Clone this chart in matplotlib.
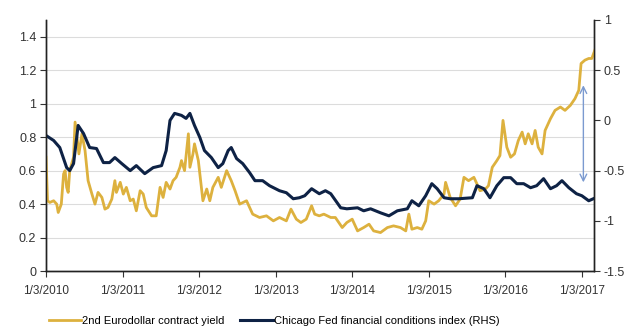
import numpy as np
import matplotlib
matplotlib.use('Agg')
import matplotlib.pyplot as plt

plt.rcParams['font.family'] = ['Liberation Sans', 'DejaVu Sans']

# 2nd Eurodollar contract yield (left axis), x in decimal years
ed_year = [2010.00, 2010.02, 2010.05, 2010.10, 2010.14, 2010.16, 2010.20, 2010.23, 2010.25, 2010.27,
           2010.29, 2010.31, 2010.36, 2010.38, 2010.41, 2010.43, 2010.47, 2010.51, 2010.55, 2010.60,
           2010.64, 2010.68, 2010.73, 2010.77, 2010.81, 2010.86, 2010.90, 2010.92, 2010.97, 2011.01,
           2011.05, 2011.10, 2011.14, 2011.18, 2011.23, 2011.27, 2011.31, 2011.38, 2011.44, 2011.49,
           2011.53, 2011.57, 2011.62, 2011.66, 2011.70, 2011.75, 2011.77, 2011.81, 2011.86, 2011.88,
           2011.92, 2011.94, 2011.99, 2012.03, 2012.05, 2012.10, 2012.14, 2012.18, 2012.25, 2012.29,
           2012.36, 2012.42, 2012.47, 2012.53, 2012.62, 2012.70, 2012.79, 2012.88, 2012.97, 2013.05,
           2013.14, 2013.20, 2013.27, 2013.33, 2013.40, 2013.47, 2013.51, 2013.57, 2013.63, 2013.72,
           2013.78, 2013.87, 2013.93, 2014.00, 2014.07, 2014.15, 2014.22, 2014.28, 2014.37, 2014.46,
           2014.54, 2014.63, 2014.70, 2014.74, 2014.78, 2014.85, 2014.91, 2014.96, 2015.00, 2015.07,
           2015.13, 2015.20, 2015.22, 2015.28, 2015.35, 2015.41, 2015.46, 2015.52, 2015.59, 2015.63,
           2015.67, 2015.74, 2015.78, 2015.83, 2015.89, 2015.93, 2015.97, 2016.02, 2016.07, 2016.12,
           2016.17, 2016.22, 2016.26, 2016.30, 2016.35, 2016.39, 2016.43, 2016.48, 2016.52, 2016.59,
           2016.65, 2016.72, 2016.78, 2016.85, 2016.91, 2016.96, 2016.99, 2017.04, 2017.09, 2017.13,
           2017.17]
ed_yield = [0.68, 0.42, 0.41, 0.42, 0.40, 0.35, 0.40, 0.58, 0.60, 0.50,
            0.47, 0.60, 0.68, 0.89, 0.78, 0.70, 0.82, 0.72, 0.54, 0.46,
            0.40, 0.47, 0.44, 0.37, 0.38, 0.43, 0.54, 0.47, 0.53, 0.46,
            0.50, 0.42, 0.43, 0.36, 0.48, 0.46, 0.38, 0.33, 0.33, 0.50,
            0.44, 0.53, 0.49, 0.54, 0.56, 0.62, 0.66, 0.60, 0.82, 0.62,
            0.70, 0.76, 0.66, 0.50, 0.42, 0.49, 0.42, 0.50, 0.56, 0.50,
            0.60, 0.54, 0.48, 0.40, 0.42, 0.34, 0.32, 0.33, 0.30, 0.32,
            0.30, 0.37, 0.31, 0.29, 0.31, 0.39, 0.34, 0.33, 0.34, 0.32,
            0.32, 0.26, 0.29, 0.31, 0.24, 0.26, 0.28, 0.24, 0.23, 0.26,
            0.27, 0.26, 0.24, 0.34, 0.25, 0.26, 0.25, 0.30, 0.42, 0.40,
            0.42, 0.46, 0.53, 0.44, 0.39, 0.43, 0.56, 0.54, 0.56, 0.52,
            0.48, 0.49, 0.51, 0.62, 0.66, 0.69, 0.90, 0.74, 0.68, 0.70,
            0.78, 0.83, 0.76, 0.82, 0.76, 0.84, 0.74, 0.70, 0.84, 0.91,
            0.96, 0.98, 0.96, 0.99, 1.03, 1.08, 1.24, 1.26, 1.27, 1.27,
            1.32]

# Chicago Fed financial conditions index (right axis)
nfci_year = [2010.00, 2010.10, 2010.18, 2010.27, 2010.31, 2010.36, 2010.42, 2010.49, 2010.57, 2010.66,
             2010.75, 2010.83, 2010.90, 2010.99, 2011.10, 2011.18, 2011.29, 2011.40, 2011.51, 2011.57,
             2011.62, 2011.68, 2011.77, 2011.83, 2011.88, 2011.94, 2012.01, 2012.07, 2012.16, 2012.25,
             2012.31, 2012.38, 2012.42, 2012.49, 2012.57, 2012.66, 2012.73, 2012.83, 2012.92, 2013.05,
             2013.14, 2013.23, 2013.31, 2013.38, 2013.47, 2013.57, 2013.65, 2013.72, 2013.85, 2013.93,
             2014.07, 2014.15, 2014.24, 2014.37, 2014.48, 2014.59, 2014.72, 2014.78, 2014.87, 2014.96,
             2015.04, 2015.11, 2015.20, 2015.28, 2015.39, 2015.57, 2015.63, 2015.72, 2015.80, 2015.89,
             2015.98, 2016.07, 2016.15, 2016.24, 2016.33, 2016.41, 2016.50, 2016.59, 2016.67, 2016.74,
             2016.83, 2016.93, 2017.00, 2017.09, 2017.15]
nfci = [-0.15, -0.20, -0.27, -0.47, -0.50, -0.43, -0.05, -0.13, -0.27, -0.28,
        -0.42, -0.42, -0.37, -0.43, -0.50, -0.45, -0.53, -0.47, -0.45, -0.30,
        0.00, 0.07, 0.05, 0.02, 0.07, -0.05, -0.17, -0.30, -0.37, -0.47,
        -0.43, -0.30, -0.27, -0.38, -0.43, -0.52, -0.60, -0.60, -0.65, -0.70,
        -0.72, -0.78, -0.77, -0.75, -0.68, -0.73, -0.70, -0.73, -0.87, -0.88,
        -0.87, -0.90, -0.88, -0.92, -0.95, -0.90, -0.88, -0.80, -0.85, -0.75,
        -0.63, -0.68, -0.77, -0.78, -0.78, -0.77, -0.65, -0.68, -0.77, -0.65,
        -0.57, -0.57, -0.63, -0.63, -0.67, -0.65, -0.58, -0.68, -0.65, -0.60,
        -0.67, -0.73, -0.75, -0.80, -0.78]

tick_years = [2010, 2011, 2012, 2013, 2014, 2015, 2016, 2017]
tick_labels = ['1/3/%d' % y for y in tick_years]

gold = '#DDB13E'
navy = '#0E2245'

fig = plt.figure(figsize=(6.3, 3.33), dpi=100)
ax = fig.add_axes([0.073, 0.186, 0.870, 0.754])
ax2 = ax.twinx()

ax.plot(ed_year, ed_yield, color=gold, lw=2.0, label='2nd Eurodollar contract yield', zorder=3)
ax2.plot(nfci_year, nfci, color=navy, lw=2.2, label='Chicago Fed financial conditions index (RHS)')

ax.set_xlim(2010.0, 2017.16)
ax.set_ylim(0, 1.5)
ax.set_yticks([0, 0.2, 0.4, 0.6, 0.8, 1.0, 1.2, 1.4])
ax.set_yticklabels(['0', '0.2', '0.4', '0.6', '0.8', '1', '1.2', '1.4'])
ax2.set_ylim(-1.5, 1)
ax2.set_yticks([-1.5, -1, -0.5, 0, 0.5, 1])
ax2.set_yticklabels(['-1.5', '-1', '-0.5', '0', '0.5', '1'])
ax.set_xticks(tick_years)
ax.set_xticklabels(tick_labels)

for y in [0.2, 0.4, 0.6, 0.8, 1.0, 1.2, 1.4]:
    ax.axhline(y, color='#dcdcdc', lw=0.8, zorder=0)

for a in (ax, ax2):
    a.spines['top'].set_visible(False)
    for s in ('left', 'right', 'bottom'):
        a.spines[s].set_linewidth(1.0)
        a.spines[s].set_color('#222222')
    a.tick_params(labelsize=9, colors='#333333', length=4, width=0.8, pad=3)
ax.tick_params(axis='x', labelsize=8.5, pad=6)

# arrow showing the gap
ax.annotate('', xy=(2017.02, 1.11), xytext=(2017.02, 0.53),
            arrowprops=dict(arrowstyle='<->', color='#7B9AD0', lw=1.0,
                            mutation_scale=12, shrinkA=0, shrinkB=0), zorder=5)

h1, l1 = ax.get_legend_handles_labels()
h2, l2 = ax2.get_legend_handles_labels()
fig.legend(h1 + h2, l1 + l2, loc='lower left', bbox_to_anchor=(0.062, -0.01), ncol=2,
           frameon=False, fontsize=8, handlelength=2.9, handletextpad=0.1, columnspacing=1.4)

fig.savefig('out.png', dpi=100)
